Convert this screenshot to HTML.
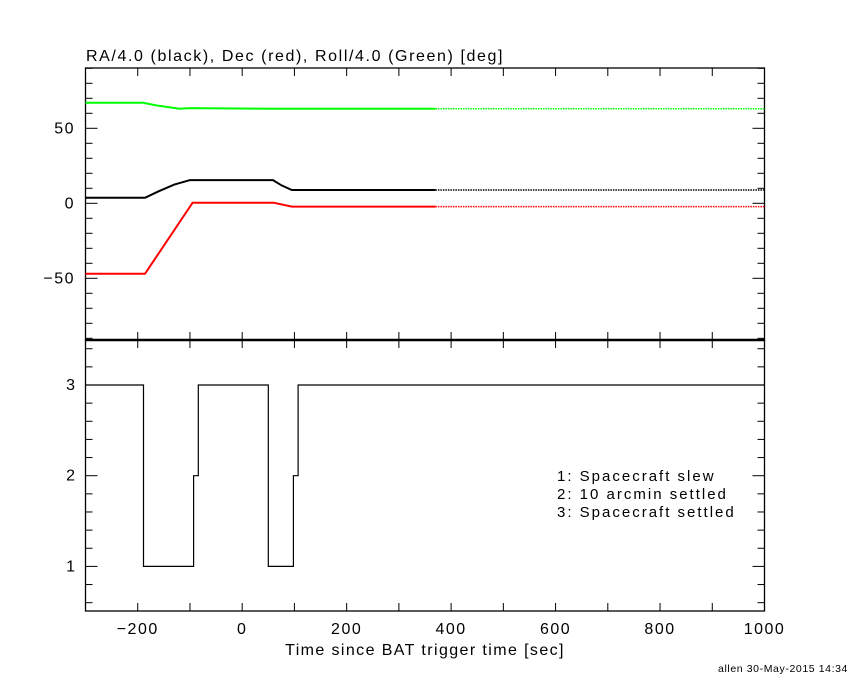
<!DOCTYPE html>
<html><head><meta charset="utf-8"><style>
html,body{margin:0;padding:0;background:#fff;}
svg text{font-family:"Liberation Sans",sans-serif;fill:#000;}
</style></head><body>
<svg id="chart" width="850" height="680" xmlns="http://www.w3.org/2000/svg">
<rect width="850" height="680" fill="#fff"/>
<text x="86" y="61" font-size="16" letter-spacing="1.6">RA/4.0 (black), Dec (red), Roll/4.0 (Green) [deg]</text>
<text x="425" y="655" font-size="16" letter-spacing="1.4" text-anchor="middle">Time since BAT trigger time [sec]</text>
<text x="848" y="672" font-size="10.5" letter-spacing="0.6" text-anchor="end">allen 30-May-2015 14:34</text>
<g font-size="15" letter-spacing="2">
<text x="557" y="481">1: Spacecraft slew</text>
<text x="557" y="499">2: 10 arcmin settled</text>
<text x="557" y="517">3: Spacecraft settled</text>
</g>
<g id="plot"></g>
</svg>
<script>
const xTicks=[-200,0,200,400,600,800,1000];
const topTicks=[-50,0,50];
const botTicks=[1,2,3];
const raT=[-300,-186,-160,-130,-100,59,75,95,370,1000];
const raV=[3.7,3.7,8,12.5,15.5,15.5,12,8.9,8.9,8.9];
const decT=[-300,-186,-95,60,95,370,1000];
const decV=[-47,-47,0.4,0.4,-2.2,-2.2,-2.2];
const rollT=[-300,-190,-160,-120,-100,60,370,1000];
const rollV=[67,67,65,63,63.5,63,63,63];
const modeT=[-300,-189,-93,-84,50,98,107,1000];
const modeV=[3,1,2,3,1,2,3,3];
const solidEnd=370;

const X0=85.5,X1=764.5;
const x=t=>X0+(t+300)/1300*(X1-X0);
const yTop=v=>203.3-1.5*v;
const yBot=v=>385-90.7*(v-3);
const NS='http://www.w3.org/2000/svg';
const g=document.getElementById('plot');
function el(tag,attrs){const e=document.createElementNS(NS,tag);for(const k in attrs)e.setAttribute(k,attrs[k]);g.appendChild(e);return e;}

let f=el('rect',{x:X0,y:68,width:X1-X0,height:272,fill:'none',stroke:'#000','stroke-width':1.3});


f=el('rect',{x:X0,y:340,width:X1-X0,height:271,fill:'none',stroke:'#000','stroke-width':1.3});


f=el('line',{x1:X0,x2:X1,y1:340,y2:340,stroke:'#000','stroke-width':2.5});



for(let t=-300;t<=1000;t+=100){
  const px=x(t);
  for(const [a,b] of [[68,76],[332,340],[340,348],[603,611]]){
    const l=el('line',{x1:px,x2:px,y1:a,y2:b,stroke:'#000','stroke-width':1});
    
    
  }
}
xTicks.forEach(t=>{
  const tx=el('text',{x:x(t),y:634,'font-size':16,'letter-spacing':1.5,'text-anchor':'middle'});
  tx.textContent=t<0?'\u2212'+(-t):String(t);
  
  
});
for(let v=-90;v<=90;v+=10){
  const py=yTop(v); if(py<68||py>340)continue;
  const len=(v%50===0)?12:7;
  for(const [a,b] of [[X0,X0+len],[X1-len,X1]]){
    const l=el('line',{x1:a,x2:b,y1:py,y2:py,stroke:'#000','stroke-width':1});
    
    
  }
}
topTicks.forEach(v=>{
  const tx=el('text',{x:75,y:yTop(v)+5,'font-size':16,'letter-spacing':1.5,'text-anchor':'end'});
  tx.textContent=v<0?'\u2212'+(-v):String(v);
  
  
});
for(let i=3;i<=17;i++){
  const v=i*0.2, py=yBot(v); if(py<340||py>611)continue;
  const len=(i%5===0)?12:7;
  for(const [a,b] of [[X0,X0+len],[X1-len,X1]]){
    const l=el('line',{x1:a,x2:b,y1:py,y2:py,stroke:'#000','stroke-width':1});
    
    
  }
}
botTicks.forEach(v=>{
  const tx=el('text',{x:75,y:yBot(v)+5,'font-size':16,'text-anchor':'end'});
  tx.textContent=String(v);
  
  
});

function series(T,V,color,name){
  const solid=[],dot=[];
  for(let i=0;i<T.length;i++){
    const p=x(T[i]).toFixed(1)+','+yTop(V[i]).toFixed(1);
    if(T[i]<=solidEnd)solid.push(p);
    if(T[i]>=solidEnd)dot.push(p);
  }
  let p=el('polyline',{points:solid.join(' '),fill:'none',stroke:color,'stroke-width':2});
  
  
  p=el('polyline',{points:dot.join(' '),fill:'none',stroke:color,'stroke-width':1.5,'stroke-dasharray':'1.5,1'});
  
  
}
series(rollT,rollV,'#00ff00','roll');
series(raT,raV,'#000','ra');
series(decT,decV,'#f00','dec');

const pts=[];
for(let i=0;i<modeT.length;i++){
  if(i>0)pts.push(x(modeT[i]).toFixed(1)+','+yBot(modeV[i-1]).toFixed(1));
  pts.push(x(modeT[i]).toFixed(1)+','+yBot(modeV[i]).toFixed(1));
}
const s=el('polyline',{points:pts.join(' '),fill:'none',stroke:'#000','stroke-width':1.2});


</script>
</body></html>
